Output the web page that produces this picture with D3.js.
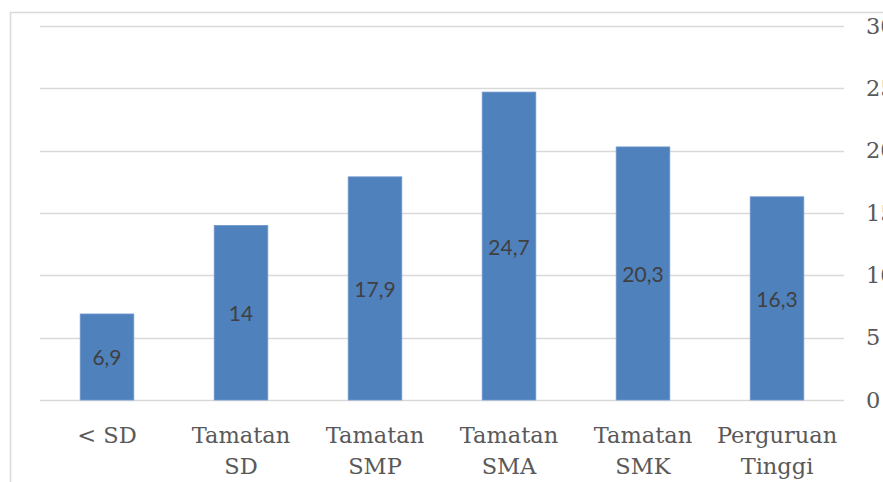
<!DOCTYPE html>
<html>
<head>
<meta charset="utf-8">
<script src="https://cdn.jsdelivr.net/npm/d3@7"></script>
<style>
  html, body { margin: 0; padding: 0; background: #fff; }
  #chart { width: 883px; height: 482px; }
  .serif { font-family: "DejaVu Serif", serif; }
</style>
</head>
<body>
<div id="chart"></div>
<script>
const categories = [["< SD"], ["Tamatan", "SD"], ["Tamatan", "SMP"], ["Tamatan", "SMA"], ["Tamatan", "SMK"], ["Perguruan", "Tinggi"]];
const values = [6.9, 14, 17.9, 24.7, 20.3, 16.3];
const valueLabels = ["6,9", "14", "17,9", "24,7", "20,3", "16,3"];
const yTicks = [0, 5, 10, 15, 20, 25, 30];

const width = 883, height = 482;
const margin = { top: 26, right: 39, bottom: 82, left: 40 };
const innerW = width - margin.left - margin.right;
const innerH = height - margin.top - margin.bottom;

const svg = d3.select("#chart").append("svg")
  .attr("width", width)
  .attr("height", height);

// chart area border (left + top)
svg.append("path")
  .attr("d", `M10.5,${height} V12.5 H${width}`)
  .attr("fill", "none")
  .attr("stroke", "#d9d9d9")
  .attr("stroke-width", 1.5);

const g = svg.append("g")
  .attr("transform", `translate(${margin.left},${margin.top})`);

const keys = categories.map((c, i) => i);
const x = d3.scaleBand().domain(keys).range([0, innerW]).paddingInner(0.6).paddingOuter(0.3);
const y = d3.scaleLinear().domain([0, 30]).range([innerH, 0]);

// gridlines
g.selectAll("line.grid")
  .data(yTicks)
  .enter()
  .append("line")
  .attr("class", "grid")
  .attr("x1", 0)
  .attr("x2", innerW)
  .attr("y1", d => Math.round(y(d)) + 0.5)
  .attr("y2", d => Math.round(y(d)) + 0.5)
  .attr("stroke", "#d9d9d9")
  .attr("stroke-width", 1.5);

// bars
g.selectAll("rect.bar")
  .data(values)
  .enter()
  .append("rect")
  .attr("class", "bar")
  .attr("x", (d, i) => x(i))
  .attr("y", d => y(d))
  .attr("width", x.bandwidth())
  .attr("height", d => innerH - y(d))
  .attr("fill", "#4f81bd")
  .attr("stroke", "#6f97cc")
  .attr("stroke-width", 0.8);

// value labels
g.selectAll("text.val")
  .data(values)
  .enter()
  .append("text")
  .attr("class", "val")
  .attr("x", (d, i) => x(i) + x.bandwidth() / 2)
  .attr("y", d => (y(d) + innerH) / 2)
  .attr("text-anchor", "middle")
  .attr("dominant-baseline", "central")
  .style("font-family", "Lato, 'Open Sans', sans-serif")
  .style("font-size", "21px")
  .attr("fill", "#404040")
  .text((d, i) => valueLabels[i]);

// right axis
const yAxis = g.append("g")
  .attr("transform", `translate(${innerW},0)`)
  .call(d3.axisRight(y).tickValues(yTicks).tickSize(0).tickPadding(22));
yAxis.select(".domain").remove();
yAxis.attr("font-family", null).attr("font-size", null);
yAxis.selectAll("text")
  .attr("class", "serif")
  .style("font-size", "22.5px")
  .attr("fill", "#595959");

// category labels
const xLab = g.selectAll("text.cat")
  .data(categories)
  .enter()
  .append("text")
  .attr("class", "cat serif")
  .attr("x", (d, i) => x(i) + x.bandwidth() / 2)
  .attr("y", innerH + 43)
  .attr("text-anchor", "middle")
  .style("font-size", "22.5px")
  .attr("fill", "#595959");
xLab.selectAll("tspan")
  .data(d => d)
  .enter()
  .append("tspan")
  .attr("x", function () { return d3.select(this.parentNode).attr("x"); })
  .attr("dy", (d, i) => i === 0 ? 0 : 31)
  .text(d => d);
</script>
</body>
</html>
